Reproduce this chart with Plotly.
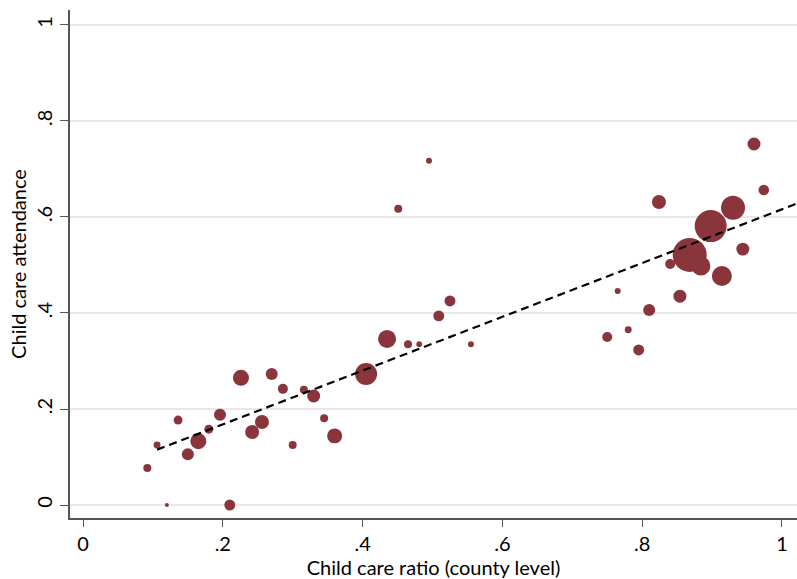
import plotly.graph_objects as go
import numpy as np

# County-level data
ratio = [0.092, 0.106, 0.120, 0.136, 0.150, 0.165, 0.180, 0.196, 0.210, 0.226,
         0.242, 0.256, 0.270, 0.286, 0.300, 0.316, 0.330, 0.345, 0.360, 0.405,
         0.435, 0.451, 0.465, 0.481, 0.495, 0.509, 0.525, 0.555, 0.750, 0.765,
         0.780, 0.795, 0.810, 0.824, 0.840, 0.854, 0.868, 0.884, 0.898, 0.914,
         0.930, 0.944, 0.960, 0.974]
attendance = [0.077, 0.125, 0.000, 0.177, 0.106, 0.133, 0.158, 0.188, 0.000, 0.265,
              0.152, 0.173, 0.273, 0.242, 0.125, 0.240, 0.227, 0.181, 0.144, 0.273,
              0.346, 0.617, 0.335, 0.335, 0.717, 0.394, 0.425, 0.335, 0.350, 0.446,
              0.365, 0.323, 0.406, 0.631, 0.502, 0.435, 0.521, 0.498, 0.581, 0.477,
              0.619, 0.533, 0.752, 0.656]
# population weights (relative)
weight = [16, 12, 4, 20, 36, 64, 20, 36, 30, 64,
          49, 49, 36, 25, 16, 16, 42, 16, 56, 121,
          81, 16, 16, 8, 9, 30, 30, 9, 25, 9,
          12, 30, 36, 49, 25, 42, 289, 90, 256, 100,
          144, 42, 42, 28]

# linear fit (weighted)
fit_intercept = 0.056
fit_slope = 0.56
fit_x = [0.106, 1.03]
fit_y = [fit_intercept + fit_slope * v for v in fit_x]

tick_vals = [0, 0.2, 0.4, 0.6, 0.8, 1]
tick_text = ["0", ".2", ".4", ".6", ".8", "1"]

diam = [2 * np.sqrt(w) for w in weight]

fig = go.Figure()
fig.add_trace(go.Scatter(
    x=ratio, y=attendance, mode="markers",
    marker=dict(size=diam, sizemode="diameter", color="#8a343b",
                line=dict(width=0), opacity=1),
    showlegend=False, hoverinfo="x+y"))
fig.add_trace(go.Scatter(
    x=fit_x, y=fit_y, mode="lines",
    line=dict(color="black", width=2.2, dash="8px,5px"),
    showlegend=False, hoverinfo="skip"))

font_family = "Lato"
fig.update_layout(
    width=797, height=579,
    margin=dict(l=70, r=0, t=10, b=61, autoexpand=False),
    plot_bgcolor="white", paper_bgcolor="white",
    font=dict(family=font_family, size=20, color="black"),
    xaxis=dict(range=[-0.0186, 1.0215], tickvals=tick_vals, ticktext=tick_text,
               automargin=False,
               showgrid=False, zeroline=False, showline=True, linecolor="#555555", linewidth=1.5,
               ticks="outside", ticklen=7, tickwidth=1.3, tickcolor="#555555",
               tickfont=dict(size=20),
               title=dict(text="Child care ratio (county level)", standoff=0, font=dict(size=20))),
    yaxis=dict(range=[-0.027, 1.031], tickvals=tick_vals, ticktext=tick_text, tickangle=-90,
               automargin=False,
               showgrid=True, gridcolor="#e8e8e8", gridwidth=1.5,
               zeroline=False, showline=True, linecolor="#555555", linewidth=1.5,
               ticks="outside", ticklen=8, tickwidth=1.3, tickcolor="#555555",
               tickfont=dict(size=20),
               title=dict(text="Child care attendance", standoff=0, font=dict(size=20))),
)

fig.write_html("out.html", config={"displayModeBar": False},
               post_script="document.body.style.margin='0';document.body.style.overflow='hidden';")
